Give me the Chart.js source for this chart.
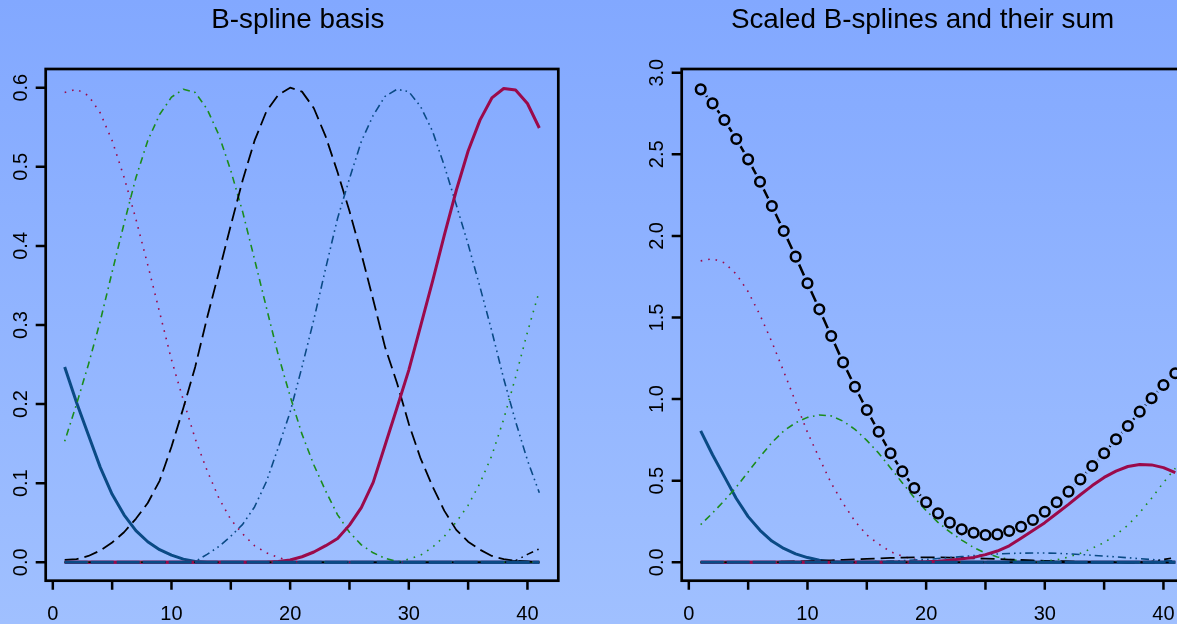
<!DOCTYPE html>
<html>
<head>
<meta charset="utf-8">
<script src="https://cdn.jsdelivr.net/npm/chart.js@4.4.0/dist/chart.umd.min.js"></script>
<style>
  html, body {
    margin: 0;
    padding: 0;
    width: 1177px;
    height: 624px;
    overflow: hidden;
    background: linear-gradient(to bottom, rgb(130,168,255) 0%, rgb(160,192,255) 100%);
  }
  canvas { position: absolute; top: 0; }
  #left { left: 0; }
  #right { left: 636px; }
</style>
</head>
<body>
<canvas id="left" width="636" height="624"></canvas>
<canvas id="right" width="636" height="624"></canvas>
<script>
// x positions 1..41
const xs = [1, 2, 3, 4, 5, 6, 7, 8, 9, 10, 11, 12, 13, 14, 15, 16, 17, 18, 19, 20,
  21, 22, 23, 24, 25, 26, 27, 28, 29, 30, 31, 32, 33, 34, 35, 36, 37, 38, 39, 40, 41];

// axis ticks
const xTicks = [0, 5, 10, 15, 20, 25, 30, 35, 40];
const xTickLabels = ['0', '', '10', '', '20', '', '30', '', '40'];
const leftYTicks = [0, 0.1, 0.2, 0.3, 0.4, 0.5, 0.6];
const leftYLabels = ['0.0', '0.1', '0.2', '0.3', '0.4', '0.5', '0.6'];
const rightYTicks = [0, 0.5, 1, 1.5, 2, 2.5, 3];
const rightYLabels = ['0.0', '0.5', '1.0', '1.5', '2.0', '2.5', '3.0'];

// B-spline basis (left panel)
const basisA = [0.247, 0.202, 0.161, 0.120, 0.086, 0.060, 0.040, 0.026, 0.016, 0.009,
  0.004, 0.001, 0, 0, 0, 0, 0, 0, 0, 0, 0, 0, 0, 0, 0, 0, 0, 0, 0, 0,
  0, 0, 0, 0, 0, 0, 0, 0, 0, 0, 0];
const basisR = [0.594, 0.598, 0.590, 0.568, 0.533, 0.487, 0.434, 0.376, 0.316, 0.256,
  0.205, 0.156, 0.116, 0.081, 0.054, 0.036, 0.021, 0.012, 0.006, 0.002,
  0, 0, 0, 0, 0, 0, 0, 0, 0, 0, 0, 0, 0, 0, 0, 0, 0, 0, 0, 0, 0];
const basisG = [0.153, 0.200, 0.250, 0.305, 0.367, 0.428, 0.486, 0.533, 0.566, 0.588,
  0.598, 0.594, 0.573, 0.540, 0.495, 0.443, 0.383, 0.322, 0.262, 0.210,
  0.162, 0.123, 0.090, 0.060, 0.038, 0.022, 0.012, 0.005, 0.001, 0,
  0, 0, 0, 0, 0, 0, 0, 0, 0, 0, 0];
const basisK = [0.003, 0.004, 0.008, 0.015, 0.025, 0.038, 0.055, 0.075, 0.103, 0.146,
  0.195, 0.247, 0.309, 0.367, 0.426, 0.483, 0.533, 0.570, 0.591, 0.600,
  0.595, 0.574, 0.538, 0.493, 0.444, 0.390, 0.332, 0.272, 0.227, 0.175,
  0.131, 0.096, 0.065, 0.041, 0.026, 0.016, 0.008, 0.004, 0.002, 0.001, 0];
const basisD = [0, 0, 0, 0, 0, 0, 0, 0, 0, 0,
  0, 0.001, 0.010, 0.020, 0.033, 0.048, 0.070, 0.102, 0.145, 0.190,
  0.247, 0.307, 0.372, 0.435, 0.485, 0.532, 0.565, 0.589, 0.598, 0.595,
  0.576, 0.545, 0.501, 0.452, 0.402, 0.348, 0.292, 0.232, 0.178, 0.129, 0.088];
const basisC = [0, 0, 0, 0, 0, 0, 0, 0, 0, 0,
  0, 0, 0, 0, 0, 0, 0, 0, 0.001, 0.003,
  0.007, 0.013, 0.021, 0.030, 0.047, 0.069, 0.101, 0.148, 0.195, 0.243,
  0.299, 0.355, 0.414, 0.470, 0.520, 0.559, 0.587, 0.599, 0.597, 0.580, 0.549];
const basisE = [0, 0, 0, 0, 0, 0, 0, 0, 0, 0,
  0, 0, 0, 0, 0, 0, 0, 0, 0, 0,
  0, 0, 0, 0, 0, 0, 0, 0, 0, 0.004,
  0.009, 0.019, 0.033, 0.051, 0.072, 0.100, 0.135, 0.181, 0.234, 0.291, 0.343];
const basisK2 = [0, 0, 0, 0, 0, 0, 0, 0, 0, 0,
  0, 0, 0, 0, 0, 0, 0, 0, 0, 0,
  0, 0, 0, 0, 0, 0, 0, 0, 0, 0,
  0, 0, 0, 0, 0, 0, 0, 0, 0.002, 0.010, 0.017];
const zeroBasis = [0, 0, 0, 0, 0, 0, 0, 0, 0, 0,
  0, 0, 0, 0, 0, 0, 0, 0, 0, 0,
  0, 0, 0, 0, 0, 0, 0, 0, 0, 0,
  0, 0, 0, 0, 0, 0, 0, 0, 0, 0, 0];

// scaled B-splines (right panel)
const scaledA = [0.805, 0.659, 0.525, 0.391, 0.280, 0.196, 0.130, 0.085, 0.052, 0.029,
  0.013, 0.003, 0, 0, 0, 0, 0, 0, 0, 0, 0, 0, 0, 0, 0, 0, 0, 0, 0, 0,
  0, 0, 0, 0, 0, 0, 0, 0, 0, 0, 0];
const scaledR = [1.847, 1.860, 1.835, 1.766, 1.658, 1.515, 1.350, 1.169, 0.983, 0.796,
  0.638, 0.485, 0.361, 0.252, 0.168, 0.112, 0.065, 0.037, 0.019, 0.006,
  0, 0, 0, 0, 0, 0, 0, 0, 0, 0, 0, 0, 0, 0, 0, 0, 0, 0, 0, 0, 0];
const scaledG = [0.231, 0.302, 0.378, 0.461, 0.554, 0.646, 0.734, 0.805, 0.855, 0.888,
  0.903, 0.897, 0.865, 0.815, 0.747, 0.669, 0.578, 0.486, 0.396, 0.317,
  0.245, 0.186, 0.136, 0.091, 0.057, 0.033, 0.018, 0.008, 0.002, 0,
  0, 0, 0, 0, 0, 0, 0, 0, 0, 0, 0];
const scaledK = [0, 0, 0, 0.001, 0.001, 0.002, 0.003, 0.004, 0.005, 0.007,
  0.010, 0.012, 0.015, 0.018, 0.021, 0.024, 0.027, 0.029, 0.030, 0.030,
  0.030, 0.029, 0.027, 0.025, 0.022, 0.020, 0.017, 0.014, 0.011, 0.009,
  0.007, 0.005, 0.003, 0.002, 0.001, 0.001, 0, 0, 0, 0, 0];
const scaledD = [0, 0, 0, 0, 0, 0, 0, 0, 0, 0,
  0, 0, 0.001, 0.002, 0.003, 0.005, 0.007, 0.010, 0.014, 0.018,
  0.023, 0.029, 0.035, 0.041, 0.046, 0.051, 0.054, 0.056, 0.057, 0.057,
  0.055, 0.052, 0.048, 0.043, 0.038, 0.033, 0.028, 0.022, 0.017, 0.012, 0.008];
const scaledC = [0, 0, 0, 0, 0, 0, 0, 0, 0, 0,
  0, 0, 0, 0, 0, 0, 0, 0, 0.001, 0.003,
  0.007, 0.013, 0.021, 0.030, 0.047, 0.069, 0.101, 0.148, 0.195, 0.243,
  0.299, 0.355, 0.414, 0.470, 0.520, 0.559, 0.587, 0.599, 0.597, 0.580, 0.549];
const scaledE = [0, 0, 0, 0, 0, 0, 0, 0, 0, 0,
  0, 0, 0, 0, 0, 0, 0, 0, 0, 0,
  0, 0, 0, 0, 0, 0, 0, 0, 0, 0.007,
  0.015, 0.032, 0.055, 0.086, 0.121, 0.168, 0.227, 0.304, 0.393, 0.489, 0.576];
const scaledK2 = [0, 0, 0, 0, 0, 0, 0, 0, 0, 0,
  0, 0, 0, 0, 0, 0, 0, 0, 0, 0,
  0, 0, 0, 0, 0, 0, 0, 0, 0, 0,
  0, 0, 0, 0, 0, 0, 0, 0, 0.004, 0.017, 0.030];
const splineSum = [2.898, 2.812, 2.710, 2.594, 2.469, 2.332, 2.183, 2.030, 1.873, 1.710,
  1.550, 1.387, 1.225, 1.076, 0.933, 0.800, 0.668, 0.557, 0.455, 0.368,
  0.300, 0.243, 0.202, 0.181, 0.167, 0.171, 0.192, 0.218, 0.259, 0.310,
  0.368, 0.433, 0.508, 0.590, 0.668, 0.754, 0.835, 0.923, 1.005, 1.086, 1.158];

const BLUE = '#0a4a85';
const CRIMSON = '#9b0a4b';
const GREEN = '#1c8c1c';
const BLACK = '#000000';

const BG_TOP = [130, 168, 255];
const BG_BOTTOM = [160, 192, 255];

// page background colour at a given pixel row
function bgAt(py) {
  const t = Math.min(1, Math.max(0, py / 624));
  const c = BG_TOP.map((v, i) => Math.round(v + (BG_BOTTOM[i] - v) * t));
  return 'rgb(' + c.join(',') + ')';
}

function line(label, values, color, width, dash) {
  return {
    label: label,
    data: values.map((v, i) => ({ x: xs[i], y: v })),
    borderColor: color,
    borderWidth: width,
    borderDash: dash || [],
    borderCapStyle: 'butt',
    borderJoinStyle: 'round',
    pointRadius: 0,
    fill: false,
    tension: 0
  };
}

// R style box, ticks, rotated y labels and title
const rAxes = {
  id: 'rAxes',
  beforeDatasetsDraw(chart, args, opts) {
    const { ctx, chartArea: a } = chart;
    const x = chart.scales.x;
    const y = chart.scales.y;
    ctx.save();
    ctx.strokeStyle = '#000';
    ctx.lineWidth = 2.7;
    ctx.strokeRect(a.left, a.top, a.right - a.left, a.bottom - a.top);

    ctx.lineWidth = 2.5;
    ctx.beginPath();
    opts.xTicks.forEach(v => {
      const px = x.getPixelForValue(v);
      ctx.moveTo(px, a.bottom);
      ctx.lineTo(px, a.bottom + 9);
    });
    opts.yTicks.forEach(v => {
      const py = y.getPixelForValue(v);
      ctx.moveTo(a.left, py);
      ctx.lineTo(a.left - 10, py);
    });
    ctx.stroke();

    ctx.fillStyle = '#000';
    ctx.font = '20px "Liberation Sans", Arial, sans-serif';
    ctx.textAlign = 'center';
    ctx.textBaseline = 'alphabetic';
    opts.xTicks.forEach((v, i) => {
      if (opts.xLabels[i]) ctx.fillText(opts.xLabels[i], x.getPixelForValue(v), 620);
    });
    opts.yTicks.forEach((v, i) => {
      ctx.save();
      ctx.translate(27, y.getPixelForValue(v));
      ctx.rotate(-Math.PI / 2);
      ctx.fillText(opts.yLabels[i], 0, 0);
      ctx.restore();
    });

    ctx.font = '27.8px "Liberation Sans", Arial, sans-serif';
    ctx.fillText(opts.title, opts.titleX, 27.7);
    ctx.restore();
  }
};

function makeChart(id, datasets, yMin, yMax, axesOpts) {
  return new Chart(document.getElementById(id), {
    type: 'line',
    data: { datasets: datasets },
    plugins: [rAxes],
    options: {
      responsive: false,
      animation: false,
      events: [],
      devicePixelRatio: 1,
      layout: { padding: { left: 45.7, right: 77.7, top: 69, bottom: 43.3 } },
      scales: {
        x: { type: 'linear', min: -0.6, max: 42.6, display: false },
        y: { type: 'linear', min: yMin, max: yMax, display: false }
      },
      plugins: {
        legend: { display: false },
        tooltip: { enabled: false },
        rAxes: axesOpts
      }
    }
  });
}

// Left: basis (first dataset is drawn on top)
makeChart('left', [
  line('zero blue', zeroBasis, BLUE, 3, [23, 3]),
  line('K2', basisK2, BLACK, 1.6, [1.6, 4.5, 7, 4.5]),
  line('E', basisE, GREEN, 1.6, [1.6, 6]),
  line('C', basisC, CRIMSON, 3, []),
  line('D', basisD, BLUE, 1.6, [8, 4, 1.6, 4, 1.6, 4]),
  line('K', basisK, BLACK, 1.8, [14, 6]),
  line('G', basisG, GREEN, 1.6, [1.6, 4.5, 7, 4.5]),
  line('R', basisR, CRIMSON, 1.6, [1.6, 6]),
  line('A', basisA, BLUE, 3, []),
  line('zero crimson', zeroBasis, CRIMSON, 3, [])
], -0.02326, 0.6236, {
  xTicks: xTicks, xLabels: xTickLabels,
  yTicks: leftYTicks, yLabels: leftYLabels,
  title: 'B-spline basis', titleX: 297.8
});

// Right: scaled basis and their sum
const sumPoints = line('sum', splineSum, BLACK, 0, []);
sumPoints.showLine = false;
sumPoints.pointRadius = 4.8;
sumPoints.pointBorderWidth = 2.5;
sumPoints.pointBorderColor = BLACK;
sumPoints.pointBackgroundColor = 'rgba(0,0,0,0)';

// background disks that open gaps in the sum line round each point
const sumMask = line('sum gap', splineSum, BLACK, 0, []);
sumMask.showLine = false;
sumMask.pointRadius = 8.7;
sumMask.pointBorderWidth = 0;
sumMask.pointBorderColor = 'rgba(0,0,0,0)';
sumMask.pointBackgroundColor = (c) => bgAt(c.chart.scales.y.getPixelForValue(c.raw.y));

makeChart('right', [
  sumPoints,
  line('zero blue', zeroBasis, BLUE, 3, [23, 3]),
  line('K2', scaledK2, BLACK, 1.6, [1.6, 4.5, 7, 4.5]),
  line('E', scaledE, GREEN, 1.6, [1.6, 6]),
  line('C', scaledC, CRIMSON, 3, []),
  line('D', scaledD, BLUE, 1.6, [8, 4, 1.6, 4, 1.6, 4]),
  line('K', scaledK, BLACK, 1.8, [14, 6]),
  line('G', scaledG, GREEN, 1.6, [1.6, 4.5, 7, 4.5]),
  line('R', scaledR, CRIMSON, 1.6, [1.6, 6]),
  line('A', scaledA, BLUE, 3, []),
  line('zero crimson', zeroBasis, CRIMSON, 3, []),
  sumMask,
  line('sum line', splineSum, BLACK, 2.5, [])
], -0.1127, 3.0227, {
  xTicks: xTicks, xLabels: xTickLabels,
  yTicks: rightYTicks, yLabels: rightYLabels,
  title: 'Scaled B-splines and their sum', titleX: 286.5
});
</script>
</body>
</html>
